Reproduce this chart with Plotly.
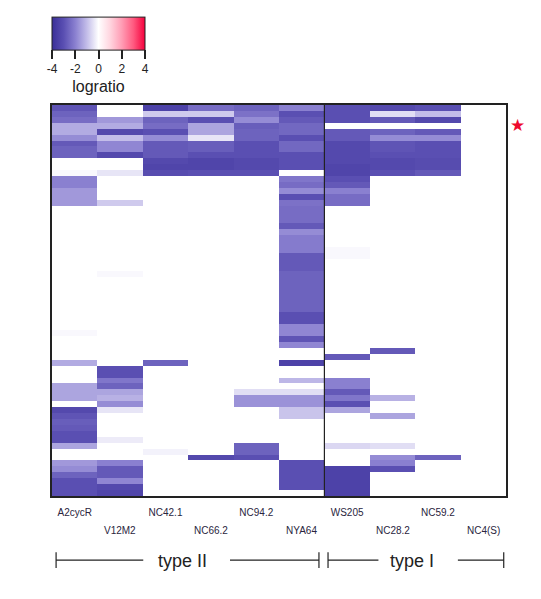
import plotly.graph_objects as go

strains = ["A2cycR", "V12M2", "NC42.1", "NC66.2", "NC94.2", "NYA64", "WS205", "NC28.2", "NC59.2", "NC4(S)"]

A2cycR = [-2.9,-2.6,-2.4,-1.3,-1.3,-1.8,-2.8,-2.6,-2.6,0,0,-0.1,-2,-2,-1.6,-1.6,-1.6] + [0]*21 + [-0.1] + [0]*4 + [-1.3,0,0,0,-1.4,-1.4,-1.4,0,-3.2,-2.9,-2.7,-2.8,-3,-3,-1.4,0,0,-1.6,-1.8,-2.6,-3,-3,-3]
V12M2 = [0,0,-1.6,-1.3,-3.2,-1,-1.9,-1.9,-3.2,0,0,-0.4,0,0,0,0,-0.8] + [0]*11 + [-0.1] + [0]*15 + [-3,-3,-2.2,-2.6,-1.4,-1.2,-1.8,-0.4,0,0,0,0,-0.3,0,0,0,-2,-2.8,-2.8,-1.9,-3.2,-3.3]
NC42_1 = [-3.4,-0.8,-2.6,-2.4,-3,-1.8,-2.8,-2.8,-2.8,-3.2,-3.3,-3.1] + [0]*31 + [-2.6] + [0]*14 + [-0.2] + [0]*7
NC66_2 = [-2.4,-0.8,-3,-1.4,-1.4,-0.4,-2.7,-2.7,-3,-3.3,-3.3,-3] + [0]*47 + [-3.2] + [0]*6
NC94_2 = [-2.6,-2.3,-1.8,-2.7,-2.6,-2.6,-3,-3,-3,-3.2,-3.2,-3] + [0]*36 + [-0.5,-1.7,-1.7] + [0]*6 + [-2.6,-2.6,-3] + [0]*6
NYA64 = [-2,-3,-2.8,-2.5,-2.5,-3,-2.5,-2.5,-3,-3,-3,0,-2.2,-2.4,-1.8,-3,-2.3,-2.4,-2.4,-2.4,-2.8,-1.8,-2.1,-2.1,-2.1,-2.8,-2.8,-2.8,-2.6,-2.6,-2.6,-2.6,-2.6,-2.6,-2.6,-3,-3,-1.9,-1.9,-2.9,-1.9,0,0,-3.4,0,0,-1.1,0,-0.5,-1.7,-1.7,-0.9,-0.9] + [0]*7 + [-3,-3,-3,-3,-3,0]
WS205 = [-3,-3,-3,0,-2.8,-2.8,-3.2,-3.2,-3.2,-3.2,-3.3,-3.3,-3,-2.8,-2,-2.4,-2.4] + [0]*7 + [-0.1,-0.1] + [0]*16 + [-2.8,0,0,0,-2,-2,-2.8,-2.2,-3,-1.4] + [0]*5 + [-0.6,0,0,0,-3.4,-3.4,-3.4,-3.4,-3.4]
NC28_2 = [-3.2,-0.5,-2.8,0,-2.6,-1.8,-2.9,-2.9,-3,-3.2,-3.2,-3] + [0]*29 + [-2.8] + [0]*7 + [-1.2,0,0,-1.4,0,0,0,0,-0.5,0,-1.8,-2,-3,0,0,0,0]
NC59_2 = [-3,-1,-3.2,0,-2.8,-1.8,-3,-3,-3,-3.1,-3.1,-2.8] + [0]*47 + [-2.6] + [0]*6
NC4_S = [0]*66

columns = [A2cycR, V12M2, NC42_1, NC66_2, NC94_2, NYA64, WS205, NC28_2, NC59_2, NC4_S]
z = [list(row) for row in zip(*columns)]

scale = [[0, "#3a2f98"], [0.125, "#5a4fb2"], [0.25, "#8a80d0"], [0.375, "#c3bde9"],
         [0.5, "#ffffff"], [0.625, "#ffd5df"], [0.75, "#ff9db5"], [0.875, "#ff5a80"], [1, "#f5003c"]]

fig = go.Figure(go.Heatmap(
    z=z, x=list(range(10)), y=list(range(66)),
    zmin=-4, zmax=4, colorscale=scale, hoverinfo="skip",
    colorbar=dict(
        orientation="h", lenmode="pixels", len=93, thicknessmode="pixels", thickness=33,
        x=0.0, xanchor="left", y=1.023, yanchor="bottom", xpad=0, ypad=0,
        tickmode="array", tickvals=[-4, -2, 0, 2, 4], ticktext=["-4", "-2", "0", "2", "4"],
        ticks="outside", ticklen=9, tickcolor="#222", tickwidth=1.5,
        tickfont=dict(size=12, color="#222", family="Liberation Sans"),
        outlinewidth=1, outlinecolor="#222",
        title=dict(text="logratio", side="bottom", font=dict(size=16, color="#222", family="Liberation Sans")),
    ),
))

text_font = dict(size=10, color="#2a2540", family="Liberation Sans")
fig.update_xaxes(
    range=[-0.5, 9.5], tickmode="array", tickvals=list(range(0, 10, 2)), ticktext=strains[0::2],
    ticks="", tickfont=text_font, showgrid=False, zeroline=False, ticklabelstandoff=6,
    showline=True, mirror=True, linecolor="#222", linewidth=1.5,
)
fig.update_yaxes(
    range=[65.5, -0.5], showticklabels=False, ticks="", showgrid=False, zeroline=False,
    showline=True, mirror=True, linecolor="#222", linewidth=1.5,
)

annotations = [dict(x=i, y=-0.087, xref="x", yref="paper", text=strains[i], showarrow=False,
                    yanchor="middle", font=text_font) for i in range(1, 10, 2)]
annotations += [
    dict(x=2.37, y=-0.165, xref="x", yref="paper", text="type II", showarrow=False, yanchor="middle",
         font=dict(size=18, color="#222", family="Liberation Sans")),
    dict(x=7.43, y=-0.165, xref="x", yref="paper", text="type I", showarrow=False, yanchor="middle",
         font=dict(size=18, color="#222", family="Liberation Sans")),
    dict(x=1.025, y=0.95, xref="paper", yref="paper", text="★", showarrow=False,
         xanchor="center", yanchor="middle",
         font=dict(size=17, color="#ee0a2c", family="DejaVu Sans")),
]

shapes = [dict(type="line", x0=5.5, x1=5.5, y0=0, y1=1, xref="x", yref="paper",
               line=dict(color="#222", width=1.2))]
bracket_y = -0.164
for a, b in [(-0.41, 1.51), (3.42, 5.38), (5.58, 6.69), (8.44, 9.45)]:
    shapes.append(dict(type="line", x0=a, x1=b, y0=bracket_y, y1=bracket_y, xref="x", yref="paper",
                       line=dict(color="#222", width=1.2)))
for a in [-0.41, 5.38, 5.58, 9.45]:
    shapes.append(dict(type="line", x0=a, x1=a, y0=bracket_y - 0.02, y1=bracket_y + 0.02, xref="x", yref="paper",
                       line=dict(color="#222", width=1.2)))

fig.update_layout(
    width=525, height=583, margin=dict(l=44, r=27, t=97, b=95, autoexpand=False),
    paper_bgcolor="white", plot_bgcolor="white",
    annotations=annotations, shapes=shapes, showlegend=False,
)
fig.write_html("out.html")
